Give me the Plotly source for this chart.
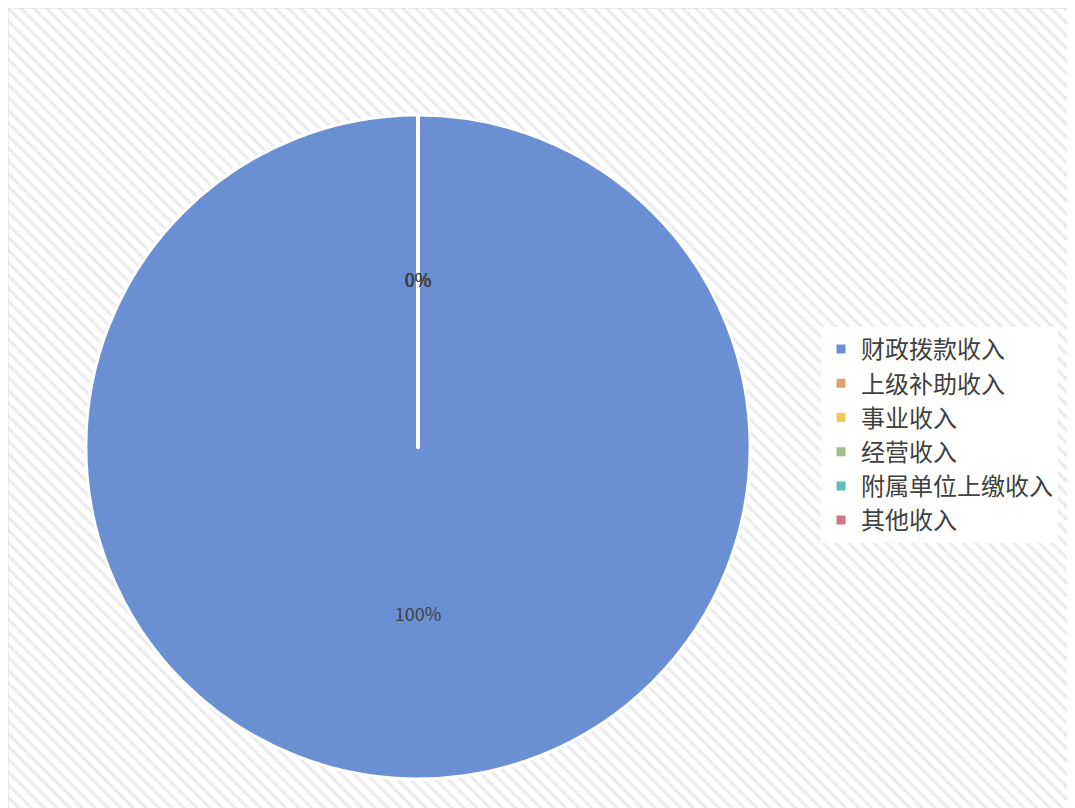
import plotly.graph_objects as go

categories = ["财政拨款收入", "上级补助收入", "事业收入", "经营收入", "附属单位上缴收入", "其他收入"]
values = [100, 0, 0, 0, 0, 0]
colors = ["#6B8FD3", "#E0A070", "#EDCB55", "#A3BC8A", "#5DBFB5", "#CF7585"]

W, H = 1067, 800
fig = go.Figure()

# hatched chart-area background
fig.add_trace(go.Bar(
    x=[0], y=[1], width=[1], showlegend=False, hoverinfo="skip",
    marker=dict(color="white", line=dict(width=0),
                pattern=dict(shape="\\", fgcolor="#D8D8D8", bgcolor="white",
                             size=9, solidity=0.35)),
    xaxis="x", yaxis="y",
))

# zero-share slices sit on the top edge; pad their label down inside the pie
pad = "<br>".join(["&nbsp;"] * 14)
templates = ["%{percent}" if v > 0 else pad + "<br>%{percent}" for v in values]

cx, cy, r = 410, 439, 332
fig.add_trace(go.Pie(
    labels=categories, values=values, sort=False, direction="clockwise",
    rotation=0, hole=0.002,
    marker=dict(colors=colors, line=dict(color="white", width=3)),
    texttemplate=templates, textposition="inside",
    textfont=dict(size=18, color="#404040", family="Noto Sans CJK SC"),
    insidetextorientation="horizontal",
    domain=dict(x=[(cx - r) / W, (cx + r) / W], y=[(H - cy - r) / H, (H - cy + r) / H]),
    hoverinfo="label+percent",
))

fig.update_layout(
    width=W, height=H, margin=dict(l=0, r=0, t=0, b=0, pad=0),
    paper_bgcolor="white", plot_bgcolor="white",
    xaxis=dict(domain=[0, 1], range=[-0.5, 0.5], visible=False, fixedrange=True),
    yaxis=dict(domain=[0, 1], range=[0, 1], visible=False, fixedrange=True),
    bargap=0,
    uniformtext=dict(minsize=18, mode="show"),
    legend=dict(x=813 / W, y=1 - 319 / H, xanchor="left", yanchor="top",
                bgcolor="white", font=dict(size=24, color="#404040", family="Noto Sans CJK SC"),
                itemclick=False),
    shapes=[dict(type="rect", xref="paper", yref="paper", x0=0, x1=1.01, y0=-0.01, y1=1,
                 line=dict(color="#D9D9D9", width=1), fillcolor="rgba(0,0,0,0)")],
)

fig.write_html("out.html")
